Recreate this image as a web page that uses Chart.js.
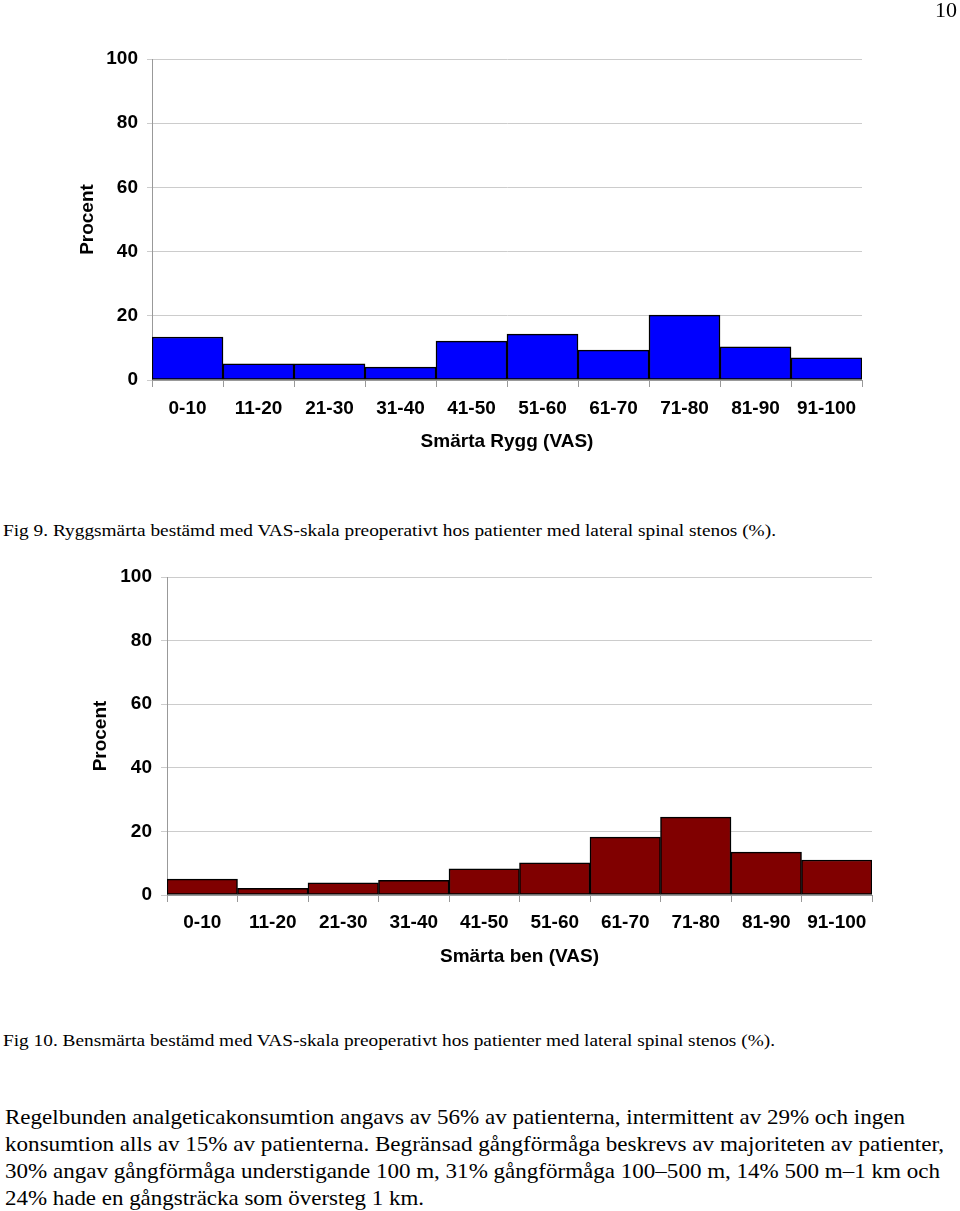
<!DOCTYPE html>
<html>
<head>
<meta charset="utf-8">
<script src="https://cdn.jsdelivr.net/npm/chart.js@4.4.1/dist/chart.umd.min.js"></script>
<style>
  body { margin: 0; background: #fff; }
  #page { position: relative; width: 960px; height: 1211px; overflow: hidden; }
  .box { position: absolute; left: 0; width: 960px; }
  .t { position: absolute; white-space: nowrap; font-family: "Liberation Serif", "Times New Roman", serif; color: #000; transform-origin: left center; }
</style>
</head>
<body>
<div id="page">
  <div class="box" style="top:0; height:470px;"><canvas id="ryggChart"></canvas></div>
  <div class="box" style="top:545px; height:440px;"><canvas id="benChart"></canvas></div>

  <div class="t" style="left:935px; top:-2px; font-size:21px; line-height:24px;" data-w="22">10</div>
  <div class="t" style="left:3px; top:519px; font-size:17.5px; line-height:22px;" data-w="773">Fig 9. Ryggsmärta bestämd med VAS-skala preoperativt hos patienter med lateral spinal stenos (%).</div>
  <div class="t" style="left:3px; top:1029px; font-size:17.5px; line-height:22px;" data-w="772">Fig 10. Bensmärta bestämd med VAS-skala preoperativt hos patienter med lateral spinal stenos (%).</div>
  <div class="t" style="left:5px; top:1104px; font-size:21px; line-height:26px;" data-w="900">Regelbunden analgeticakonsumtion angavs av 56% av patienterna, intermittent av 29% och ingen</div>
  <div class="t" style="left:5px; top:1131px; font-size:21px; line-height:26px;" data-w="939">konsumtion alls av 15% av patienterna. Begränsad gångförmåga beskrevs av majoriteten av patienter,</div>
  <div class="t" style="left:5px; top:1158px; font-size:21px; line-height:26px;" data-w="935">30% angav gångförmåga understigande 100 m, 31% gångförmåga 100–500 m, 14% 500 m–1 km och</div>
  <div class="t" style="left:5px; top:1185px; font-size:21px; line-height:26px;" data-w="419">24% hade en gångsträcka som översteg 1 km.</div>
</div>
<script>
var vasGroups = ['0-10', '11-20', '21-30', '31-40', '41-50', '51-60', '61-70', '71-80', '81-90', '91-100'];
var ryggPercent = [13.4, 5.0, 5.0, 4.0, 12.1, 14.3, 9.3, 20.2, 10.3, 6.9];
var benPercent = [5.0, 2.1, 3.8, 4.6, 8.2, 10.1, 18.2, 24.5, 13.5, 11.0];
var yTicks = [0, 20, 40, 60, 80, 100];

// stretch text lines to the widths in the scan
document.querySelectorAll('.t').forEach(function (el) {
    var w = parseFloat(el.getAttribute('data-w'));
    var real = el.getBoundingClientRect().width;
    if (w && real) el.style.transform = 'scaleX(' + (w / real) + ')';
});

var sans = '"Liberation Sans", Arial, sans-serif';
var labelFont = { family: sans, size: 19, weight: 'bold' };

function makeChart(id, values, color, xTitle, plot) {
    var ctx = document.getElementById(id).getContext('2d');
    return new Chart(ctx, {
        type: 'bar',
        data: {
            labels: vasGroups,
            datasets: [{
                data: values,
                backgroundColor: color,
                borderColor: '#000',
                borderWidth: 1.5,
                borderSkipped: false,
                categoryPercentage: 1,
                barPercentage: 1
            }]
        },
        options: {
            responsive: true,
            maintainAspectRatio: false,
            animation: false,
            layout: { padding: { left: 0, top: plot.top, right: 960 - plot.right, bottom: 0 } },
            plugins: { legend: { display: false }, tooltip: { enabled: false } },
            scales: {
                x: {
                    afterFit: function (axis) { axis.height = plot.xAxisH; },
                    grid: { display: true, drawOnChartArea: false, drawTicks: true, tickLength: 7, color: '#999', offset: true },
                    border: { display: true, color: '#999' },
                    ticks: { color: '#000', padding: plot.xTickPad, maxRotation: 0, font: labelFont },
                    title: {
                        display: true, text: xTitle, color: '#000', font: labelFont,
                        padding: { top: 0, bottom: plot.xTitleBottom }
                    }
                },
                y: {
                    min: 0, max: 100,
                    afterBuildTicks: function (axis) {
                        axis.ticks = yTicks.map(function (v) { return { value: v }; });
                    },
                    afterFit: function (axis) { axis.width = plot.left; },
                    grid: { color: '#ccc', drawTicks: true, tickLength: plot.yTickLen },
                    border: { display: true, color: '#999' },
                    ticks: { color: '#000', padding: 9, font: labelFont },
                    title: {
                        display: true, text: 'Procent', color: '#000', font: labelFont,
                        padding: { top: plot.yTitleX - 11.4, bottom: 0 }
                    }
                }
            }
        }
    });
}

makeChart('ryggChart', ryggPercent, '#0000ff', 'Smärta Rygg (VAS)',
    { left: 152, right: 862, top: 59, yTickLen: 5, yTitleX: 88, xAxisH: 90, xTickPad: 10, xTitleBottom: 16.6 });
makeChart('benChart', benPercent, '#800000', 'Smärta ben (VAS)',
    { left: 167, right: 872, top: 32, yTickLen: 6, yTitleX: 101, xAxisH: 90, xTickPad: 9, xTitleBottom: 16.6 });
</script>
</body>
</html>
